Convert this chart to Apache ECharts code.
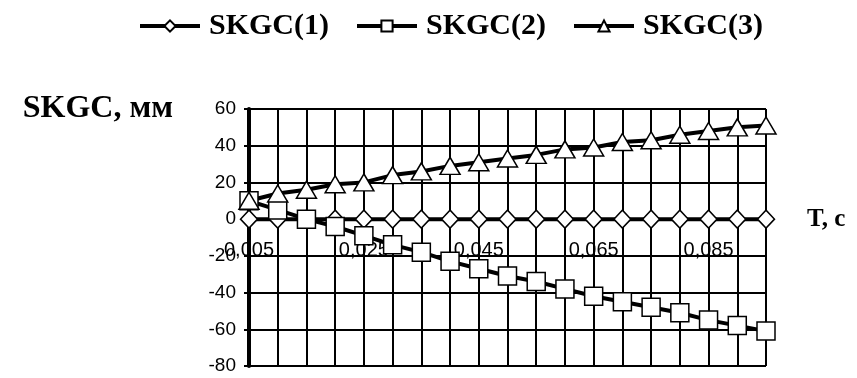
<!DOCTYPE html>
<html>
<head>
<meta charset="utf-8">
<style>
  html, body { margin: 0; padding: 0; background: #fff; }
  #chart { width: 857px; height: 378px; }
</style>
<script src="https://cdn.jsdelivr.net/npm/echarts@6/dist/echarts.min.js"></script>
</head>
<body>
<div id="chart"></div>
<script>
// Time samples, s
const times = ['0,005', '0,010', '0,015', '0,020', '0,025', '0,030', '0,035', '0,040', '0,045', '0,050',
               '0,055', '0,060', '0,065', '0,070', '0,075', '0,080', '0,085', '0,090', '0,095'];
// SKGC values, mm
const skgc1 = [0, 0, 0, 0, 0, 0, 0, 0, 0, 0, 0, 0, 0, 0, 0, 0, 0, 0, 0];
const skgc2 = [10, 5, 0, -4, -9, -14, -18, -23, -27, -31, -34, -38, -42, -45, -48, -51, -55, -58, -61];
const skgc3 = [10, 14, 16, 19, 20, 24, 26, 29, 31, 33, 35, 38, 39, 42, 43, 46, 48, 50, 51];
const seriesNames = ['SKGC(1)', 'SKGC(2)', 'SKGC(3)'];
// Value axis range
const yMin = -80, yMax = 60, yStep = 20;

const serif = '"Liberation Serif", "Times New Roman", serif';
const sans = '"Liberation Sans", Arial, sans-serif';

const W = 857, H = 378;
const grid = { left: 249, top: 109, right: 91, bottom: 12 };
// the category axis runs along the zero line of the value axis
const plotH = H - grid.top - grid.bottom;
const zeroOffset = (0 - yMin) / (yMax - yMin) * plotH;

function lineSeries(name, data, symbol, size) {
  return {
    name: name,
    type: 'line',
    data: data,
    symbol: symbol,
    symbolSize: size,
    showAllSymbol: true,
    lineStyle: { color: '#000', width: 4 },
    itemStyle: { color: '#fff', borderColor: '#000', borderWidth: 1.5 },
    emphasis: { disabled: true },
    animation: false
  };
}

const chart = echarts.init(document.getElementById('chart'));
chart.setOption({
  backgroundColor: '#fff',
  animation: false,
  legend: {
    left: 133,
    top: 6,
    itemWidth: 60,
    itemHeight: 14,
    itemGap: 26,
    lineStyle: { width: 4, color: '#000' },
    textStyle: { fontFamily: serif, fontWeight: 'bold', fontSize: 30, color: '#000', padding: [0, 0, 0, 4] },
    data: seriesNames
  },
  grid: Object.assign({ containLabel: false, outerBoundsMode: 'none' }, grid),
  xAxis: {
    type: 'category',
    data: times,
    boundaryGap: false,
    offset: -zeroOffset,
    name: 'T, c',
    nameLocation: 'end',
    nameGap: 41,
    nameTextStyle: { fontFamily: serif, fontWeight: 'bold', fontSize: 25, color: '#000', verticalAlign: 'middle' },
    axisLine: { onZero: false, lineStyle: { color: '#000', width: 2 } },
    axisTick: { show: false },
    axisLabel: { interval: 3, margin: 21, fontFamily: sans, fontSize: 20, color: '#000' },
    splitLine: { show: true, interval: 0, lineStyle: { color: '#000', width: 2 } }
  },
  yAxis: {
    type: 'value',
    min: yMin,
    max: yMax,
    interval: yStep,
    name: 'SKGC, мм',
    nameLocation: 'end',
    nameGap: 0,
    nameTextStyle: { fontFamily: serif, fontWeight: 'bold', fontSize: 32, color: '#000',
                     align: 'right', verticalAlign: 'middle', padding: [0, 76, 0, 0] },
    axisLine: { show: true, onZero: false, lineStyle: { color: '#000', width: 4 } },
    axisTick: { show: true, length: 5, lineStyle: { color: '#000', width: 2 } },
    axisLabel: { margin: 13, fontFamily: sans, fontSize: 19, color: '#000' },
    splitLine: { show: true, lineStyle: { color: '#000', width: 2 } }
  },
  series: [
    lineSeries(seriesNames[0], skgc1, 'diamond', [17, 18]),
    lineSeries(seriesNames[1], skgc2, 'rect', [18, 18]),
    lineSeries(seriesNames[2], skgc3, 'triangle', [20, 17])
  ]
});
</script>
</body>
</html>
